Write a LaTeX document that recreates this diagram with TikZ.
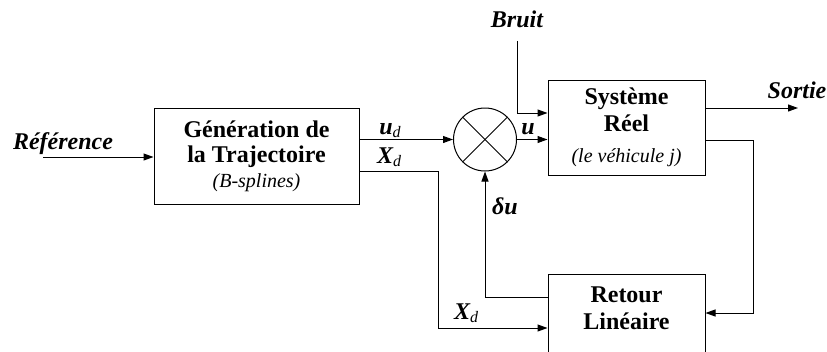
\documentclass[tikz,border=0pt]{standalone}
\usepackage{fontspec}
\setmainfont{Liberation Serif}
\usetikzlibrary{arrows.meta}

\newcommand{\bigbf}{\fontsize{24}{26}\selectfont\bfseries}
\newcommand{\smit}{\fontsize{20}{22}\selectfont\mdseries\itshape}
\newcommand{\vsub}[2]{#1\raisebox{-0.3ex}{\fontsize{16}{16}\selectfont\mdseries\itshape #2}}

\tikzset{
  blockbox/.style={draw,line width=1pt,align=center,font=\bigbf,inner sep=0pt},
  siglabel/.style={font=\bigbf\itshape,inner sep=0pt,anchor=base}
}

\begin{document}
\begin{tikzpicture}[x=1pt,y=-1pt,>={Triangle[length=10pt,width=7pt]},line width=1pt]
\useasboundingbox (0,0) rectangle (827,351);
\clip (0,0) rectangle (827,351);
\node[blockbox,minimum width=205,minimum height=96] (gen) at (256.5,156)
  {G\'en\'eration de\\[-1pt] la Trajectoire\\[-1pt] {\smit (B-splines)}};
\node[blockbox,minimum width=157,minimum height=95] (sys) at (626.5,127.5)
  {Syst\`eme\\[1pt] R\'eel\\[5pt] {\smit (le v\'ehicule j)}};
\node[blockbox,minimum width=157,anchor=north,text depth=60pt,inner ysep=12pt] (ret) at (626.5,274)
  {Retour\\[1pt] Lin\'eaire};
\node[draw,circle,line width=1pt,minimum size=63,inner sep=0pt] (mult) at (485,139.5) {};
\draw (mult.north west) -- (mult.south east);
\draw (mult.north east) -- (mult.south west);

\coordinate (refin) at (43,157);
\coordinate (xdturn) at (438,171);
\coordinate (fbturn) at (753,140);
\coordinate (sortie) at (798,108);

\node[siglabel] (reflbl) at (63,149) {R\'ef\'erence};
\node[siglabel] (bruit) at (517,27) {Bruit};
\node[siglabel] (sortielbl) at (797,98) {Sortie};
\node[siglabel] (udlbl) at (390,134) {\vsub{u}{d}};
\node[siglabel] (xdlbl) at (389,163) {\vsub{X}{d}};
\node[siglabel] (xdlbl2) at (466,319) {\vsub{X}{d}};
\node[siglabel] (ulbl) at (528,134) {u};
\node[siglabel] (dulbl) at (505,214) {\char"03B4u};

\draw[->] (refin) -- (refin -| gen.west);
\draw[->] (gen.east |- mult) -- (mult.west);
\draw[->] (mult.east) -- (mult -| sys.west);
\draw[->,shorten <=13pt] (bruit) |- ([yshift=14.5pt]sys.west);
\draw[->] ([yshift=19.5pt]sys.east) -- (sortie);
\draw[->] ([yshift=-12.5pt]sys.east) -- (fbturn) |- ([yshift=-39pt]ret.north east);
\draw[->] ([yshift=-23pt]ret.north west) -| (mult.south);
\draw[->] ([yshift=-15pt]gen.east) -- (xdturn) |- ([yshift=-54pt]ret.north west);
\end{tikzpicture}
\end{document}
